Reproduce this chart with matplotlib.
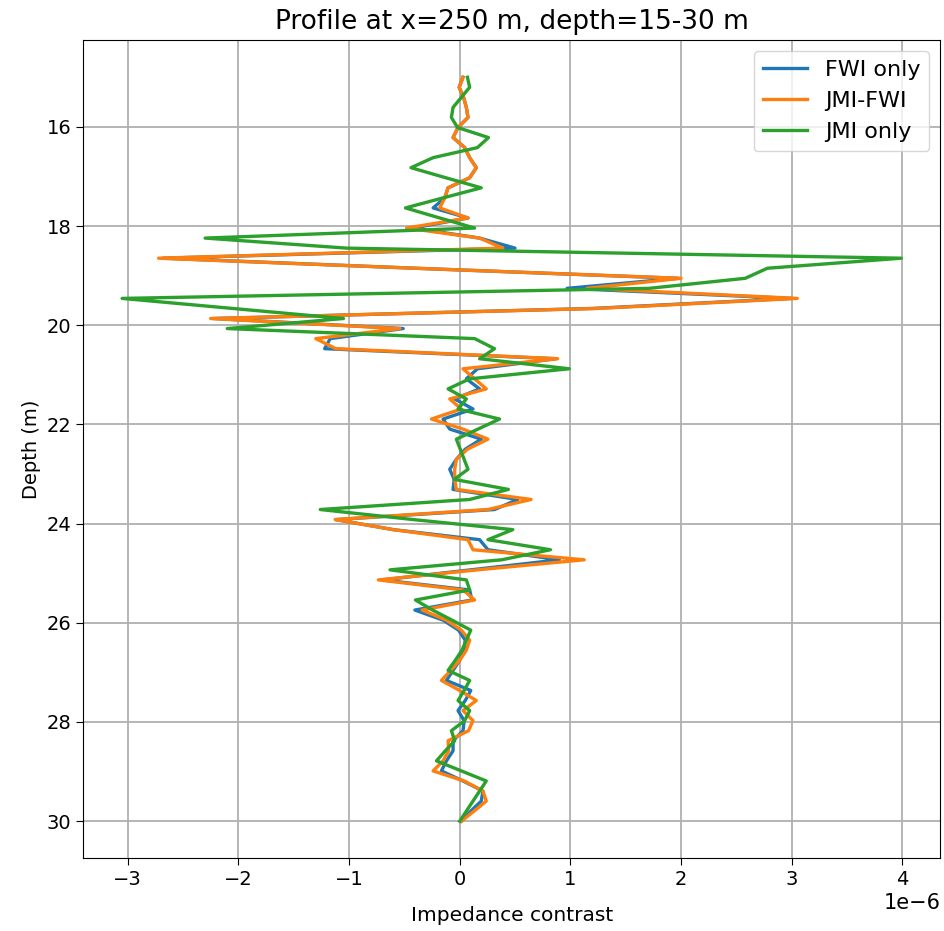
import numpy as np
import matplotlib
matplotlib.use('Agg')
from matplotlib import pyplot as plt

# depth samples along the profile (m)
depth = np.linspace(15, 30, 75)

# impedance contrast, units of 1e-6
fwi_only = [0.03, -0.005, 0.035, 0.06, 0.075, -0.015, -0.06, 0.045, 0.09, 0.15,
            0.09, -0.105, -0.135, -0.24, 0.075, -0.42, 0.18, 0.50, -2.68, -0.40,
            1.97, 0.97, 3.0, 1.2, -2.22, -0.51, -1.17, -1.22, 0.87, 0.16,
            0.06, 0.18, -0.045, 0.12, -0.15, -0.09, 0.195, 0.05, -0.03, -0.09,
            -0.05, -0.06, 0.525, 0.315, -1.12, -0.60, 0.18, 0.255, 0.90, 0.10,
            -0.70, 0.09, 0.11, -0.405, -0.15, -0.01, 0.05, 0.04, 0.0, -0.06,
            -0.12, 0.10, 0.05, -0.015, 0.04, 0.03, -0.06, -0.06, -0.12, -0.165,
            0.03, 0.21, 0.195, 0.10, 0.015]

jmi_fwi = [0.03, -0.005, 0.035, 0.06, 0.075, -0.015, -0.06, 0.045, 0.09, 0.15,
           0.09, -0.105, -0.135, -0.18, 0.075, -0.48, 0.18, 0.39, -2.72, -0.40,
           2.0, 1.15, 3.05, 1.24, -2.25, -0.54, -1.30, -1.12, 0.885, 0.03,
           0.135, 0.24, -0.09, 0.015, -0.255, 0.03, 0.255, 0.07, -0.03, -0.045,
           -0.045, -0.03, 0.645, 0.255, -1.125, -0.60, 0.075, 0.12, 1.125, 0.16,
           -0.735, 0.03, 0.135, -0.34, -0.12, 0.015, 0.09, 0.06, 0.0, -0.08,
           -0.165, 0.0, 0.15, 0.03, 0.12, 0.08, -0.105, -0.10, -0.15, -0.24,
           0.04, 0.21, 0.24, 0.13, 0.015]

jmi_only = [0.07, 0.09, 0.015, -0.06, -0.075, -0.02, 0.26, 0.16, -0.24, -0.44,
            -0.125, 0.195, -0.15, -0.49, -0.18, 0.135, -2.30, -1.02, 3.99, 2.78,
            2.58, 1.71, -3.05, -2.05, -1.05, -2.10, 0.135, 0.315, 0.18, 0.99,
            0.09, -0.105, 0.06, -0.015, 0.36, 0.165, -0.03, 0.005, 0.04, 0.075,
            -0.05, 0.44, 0.09, -1.26, -0.42, 0.48, 0.255, 0.82, 0.38, -0.63,
            0.06, 0.09, -0.40, -0.245, -0.07, 0.10, 0.06, 0.02, -0.04, -0.105,
            0.09, 0.04, -0.015, 0.09, 0.045, -0.075, -0.045, -0.13, -0.21, 0.015,
            0.24, 0.18, 0.12, 0.06, 0.0]

fwi_only = np.array(fwi_only) * 1e-6
jmi_fwi = np.array(jmi_fwi) * 1e-6
jmi_only = np.array(jmi_only) * 1e-6

fig = plt.figure(figsize=(9.45, 9.31), dpi=100)
ax = fig.add_axes([0.088, 0.078, 0.907, 0.879])

ax.plot(fwi_only, depth, label='FWI only', color='#1f77b4', lw=2.4)
ax.plot(jmi_fwi, depth, label='JMI-FWI', color='#ff7f0e', lw=2.4)
ax.plot(jmi_only, depth, label='JMI only', color='#2ca02c', lw=2.4)

ax.invert_yaxis()
ax.set_title('Profile at x=250 m, depth=15-30 m', fontsize=19, pad=8)
ax.set_xlabel('Impedance contrast', fontsize=14.5, labelpad=12)
ax.set_ylabel('Depth (m)', fontsize=14)
ax.tick_params(labelsize=14, length=5)
ax.xaxis.get_offset_text().set_fontsize(15)
ax.grid(True, lw=1.3, color='#b0b0b0')
ax.legend(loc='upper right', fontsize=16, handlelength=2.0)

plt.savefig('out.png', dpi=100)
